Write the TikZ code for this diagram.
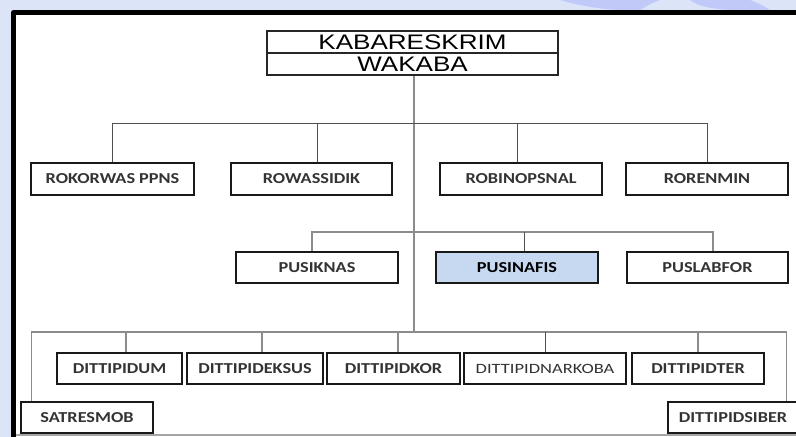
\documentclass[tikz,border=0pt]{standalone}
\usepackage{fontspec}
\setmainfont{Carlito}
\newfontfamily\arialf[FakeStretch=1.24]{Liberation Sans}
\newfontfamily\lbl[FakeStretch=1.2]{Carlito}
\newfontfamily\lblnar[FakeStretch=1.3]{Carlito}
\definecolor{bgblue}{HTML}{DBE5F7}
\definecolor{nafis}{HTML}{C6D9F0}
\definecolor{txt}{HTML}{333333}
\definecolor{lineA}{HTML}{505050}
\definecolor{lineB}{HTML}{8C8C8C}
\tikzset{
  box/.style={draw=black!90, line width=0.75pt, fill=white, inner sep=0pt,
    font=\lbl\fontsize{7.6}{8}\selectfont\bfseries, text=txt},
  topbox/.style={draw=black!85, line width=0.6pt, fill=white, inner sep=0pt,
    minimum width=145.5pt, minimum height=11pt, font=\arialf\fontsize{10.5}{11}\selectfont},
  connA/.style={draw=lineA, line width=0.5pt},
  connB/.style={draw=lineB, line width=0.6pt},
}
\begin{document}
\begin{tikzpicture}[x=0.5pt,y=-0.5pt]
\useasboundingbox (0,0) rectangle (796,437);
\fill[bgblue] (0,0) rectangle (796,437);
% faint watermark shapes
\fill[blue!12!bgblue] (560,0) .. controls (580,6) and (600,9) .. (620,10) -- (640,10) .. controls (650,4) .. (660,0) -- cycle;
\fill[blue!12!bgblue] (690,0) .. controls (700,8) and (720,10) .. (740,10) -- (770,10) .. controls (760,4) .. (750,0) -- cycle;
% frame
\fill[white] (13.5,12.5) rectangle (800,437);
\draw[line width=2.5pt, line join=round] (13.5,440) -- (13.5,12.5) -- (800,12.5);
\draw[gray!70, line width=0.6pt] (16,435) -- (796,435);

% top box
\node[topbox] (top1) at (412.5,42) {KABARESKRIM};
\node[topbox] (top2) at (412.5,64) {WAKABA};

% level 1
\node[box, minimum width=81.5pt, minimum height=16pt] (r1) at (112.5,179) {ROKORWAS PPNS};
\node[box, minimum width=80.5pt, minimum height=16pt] (r2) at (311.5,179) {ROWASSIDIK};
\node[box, minimum width=81pt, minimum height=16pt] (r3) at (521,179) {ROBINOPSNAL};
\node[box, minimum width=81pt, minimum height=16pt] (r4) at (707,179) {RORENMIN};

% level 2
\node[box, minimum width=81pt, minimum height=15.5pt] (p1) at (317,267.5) {PUSIKNAS};
\node[box, minimum width=81pt, minimum height=15.5pt, fill=nafis, text=black] (p2) at (517,267.5) {PUSINAFIS};
\node[box, minimum width=80.5pt, minimum height=15.5pt] (p3) at (707.5,267.5) {PUSLABFOR};

% level 3
\node[box, minimum width=62.5pt, minimum height=15.5pt] (d1) at (119.5,368.5) {DITTIPIDUM};
\node[box, minimum width=68pt, minimum height=15.5pt] (d2) at (255,368.5) {DITTIPIDEKSUS};
\node[box, minimum width=66.5pt, minimum height=15.5pt] (d3) at (393.5,368.5) {DITTIPIDKOR};
\node[box, minimum width=81pt, minimum height=15.5pt, font=\lblnar\fontsize{7.1}{8}\selectfont, text=txt] (d4) at (545,368.5) {DITTIPIDNARKOBA};
\node[box, minimum width=66pt, minimum height=15.5pt] (d5) at (698,368.5) {DITTIPIDTER};
\node[box, minimum width=66pt, minimum height=15.5pt] (sat) at (87,417.5) {SATRESMOB};
\node[box, minimum width=65pt, minimum height=15.5pt] (sib) at (733,417.5) {DITTIPIDSIBER};

% buses
\coordinate (bus1) at (0,124);
\coordinate (bus2) at (0,232);
\coordinate (bus3) at (0,332);

% trunk
\draw[connB] ([xshift=0.75pt]top2.south) -- ([xshift=0.75pt]top2.south |- bus3);

% level 1 connectors
\draw[connA] (r1.north) -- (r1.north |- bus1) -- (r4.north |- bus1) -- (r4.north);
\draw[connA] ([xshift=2.75pt]r2.north) -- ([xshift=2.75pt]r2.north |- bus1);
\draw[connA] ([xshift=-2pt]r3.north) -- ([xshift=-2pt]r3.north |- bus1);

% level 2 connectors
\draw[connB] ([xshift=-2.5pt]p1.north) -- ([xshift=-2.5pt]p1.north |- bus2) -- ([xshift=2.75pt]p3.north |- bus2) -- ([xshift=2.75pt]p3.north);
\draw[connA] ([xshift=3.5pt]p2.north) -- ([xshift=3.5pt]p2.north |- bus2);

% level 3 connectors
\draw[connB] ([xshift=5.5pt]sat.north west) -- ([xshift=5.5pt]sat.north west |- bus3) -- ([xshift=59.5pt]sib.north west |- bus3) -- ([xshift=59.5pt]sib.north west);
\draw[connB] ([xshift=3.25pt]d1.north) -- ([xshift=3.25pt]d1.north |- bus3);
\draw[connB] ([xshift=3.5pt]d2.north) -- ([xshift=3.5pt]d2.north |- bus3);
\draw[connB] ([xshift=2.25pt]d3.north) -- ([xshift=2.25pt]d3.north |- bus3);
\draw[connA] ([xshift=0.25pt]d4.north) -- ([xshift=0.25pt]d4.north |- bus3);
\draw[connB] (d5.north) -- (d5.north |- bus3);
\end{tikzpicture}
\end{document}
